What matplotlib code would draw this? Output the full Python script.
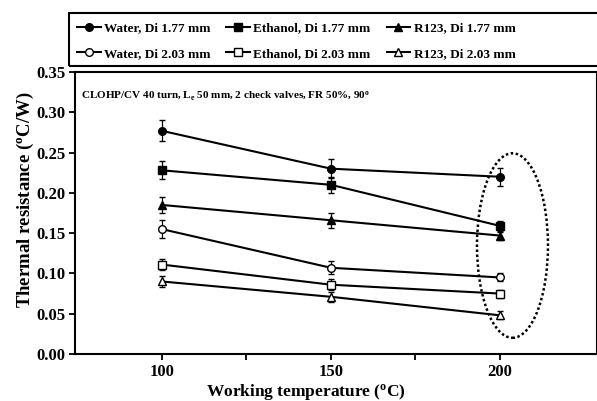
import matplotlib.pyplot as plt
from matplotlib.patches import Ellipse, Rectangle
from matplotlib.lines import Line2D
from matplotlib.ticker import FixedLocator

# working temperatures (C)
temps = [100, 150, 200]

# thermal resistance (C/W)
water_177 = [0.277, 0.230, 0.220]
ethanol_177 = [0.228, 0.210, 0.159]
r123_177 = [0.185, 0.166, 0.147]
water_203 = [0.155, 0.107, 0.095]
ethanol_203 = [0.111, 0.086, 0.075]
r123_203 = [0.090, 0.071, 0.048]

# error bar half widths
err_water_177 = [0.013, 0.012, 0.011]
err_ethanol_177 = [0.011, 0.010, 0.006]
err_r123_177 = [0.010, 0.009, 0.005]
err_water_203 = [0.011, 0.008, 0.005]
err_ethanol_203 = [0.007, 0.007, 0.005]
err_r123_203 = [0.007, 0.006, 0.005]

labels = ['Water, Di 1.77 mm', 'Ethanol, Di 1.77 mm', 'R123, Di 1.77 mm',
          'Water, Di 2.03 mm', 'Ethanol, Di 2.03 mm', 'R123, Di 2.03 mm']

plt.rcParams['font.family'] = ['Liberation Serif', 'DejaVu Serif']
plt.rcParams['font.weight'] = 'bold'
plt.rcParams['mathtext.fontset'] = 'custom'
plt.rcParams['mathtext.rm'] = 'Liberation Serif:bold'
plt.rcParams['mathtext.it'] = 'Liberation Serif:bold'
plt.rcParams['mathtext.bf'] = 'Liberation Serif:bold'

W, H = 597, 401
fig = plt.figure(figsize=(W / 100, H / 100), dpi=100)
ax = fig.add_axes([75 / W, (H - 354) / H, 522 / W, 282 / H])

series = [
    (water_177, err_water_177, 'o', 'black'),
    (ethanol_177, err_ethanol_177, 's', 'black'),
    (r123_177, err_r123_177, '^', 'black'),
    (water_203, err_water_203, 'o', 'white'),
    (ethanol_203, err_ethanol_203, 's', 'white'),
    (r123_203, err_r123_203, '^', 'white'),
]

handles = []
for (vals, err, mk, fc), lab in zip(series, labels):
    ax.errorbar(temps, vals, yerr=err, marker=mk, markersize=5.5,
                markerfacecolor=fc, markeredgecolor='black', color='black',
                linewidth=1.5, elinewidth=0.9, ecolor='black', capsize=2.5,
                capthick=0.9, markeredgewidth=1.0)
    handles.append(Line2D([], [], color='black', linewidth=1.5, marker=mk,
                          markersize=5.5, markerfacecolor=fc,
                          markeredgecolor='black'))

# dotted ellipse around the 200 C points
ax.add_patch(Ellipse((203.7, 0.1346), 21, 0.229, fill=False,
                     linestyle=(0, (1, 1)), linewidth=1.8, edgecolor='black'))

ax.set_xlim(74.3, 228.7)
ax.set_ylim(0, 0.35)
ax.set_xticks([100, 150, 200])
ax.xaxis.set_minor_locator(FixedLocator([125, 175]))
ax.set_yticks([0.00, 0.05, 0.10, 0.15, 0.20, 0.25, 0.30, 0.35])
ax.set_yticklabels(['0.00', '0.05', '0.10', '0.15', '0.20', '0.25', '0.30', '0.35'])
ax.tick_params(axis='both', which='major', direction='out', length=4, width=1.3,
               labelsize=12)
ax.tick_params(axis='x', which='minor', direction='out', length=4, width=1.3)
ax.tick_params(axis='x', pad=3)
ax.tick_params(axis='y', pad=3)
for sp in ax.spines.values():
    sp.set_linewidth(1.5)

ax.set_xlabel('Working temperature ($^{o}$C)', fontsize=12.5, fontweight='bold')
ax.xaxis.set_label_coords((306 - 75) / 522, -(392 - 354) / 282)
ax.xaxis.label.set_va('center')
ax.set_ylabel('Thermal resistance ($^{o}$C/W)', fontsize=13.5, fontweight='bold')
ax.yaxis.set_label_coords((25 - 75) / 522, (354 - 200) / 282)
ax.yaxis.label.set_va('center')

fig.text(81 / W, 1 - 96 / H,
         'CLOHP/CV 40 turn, L$_{e}$ 50 mm, 2 check valves, FR 50%, 90$^{o}$',
         fontsize=8, fontweight='bold', va='center', ha='left')

# legend box drawn separately so it runs to the right edge like the reference
fig.patches.append(Rectangle((69 / W, 1 - 66 / H), 540 / W, 53 / H,
                             transform=fig.transFigure, fill=False,
                             edgecolor='black', linewidth=1.5))

# legend order: fill columns so rows read 1.77 then 2.03
order = [0, 3, 1, 4, 2, 5]
leg = fig.legend([handles[i] for i in order], [labels[i] for i in order],
                 ncol=3, loc='upper left', bbox_to_anchor=(77 / W, 1 - 22 / H),
                 fontsize=9.5, frameon=False, handlelength=1.8, handletextpad=0.25,
                 borderaxespad=0, borderpad=0, columnspacing=1.2,
                 labelspacing=1.0)

fig.savefig('out.png', dpi=100)
